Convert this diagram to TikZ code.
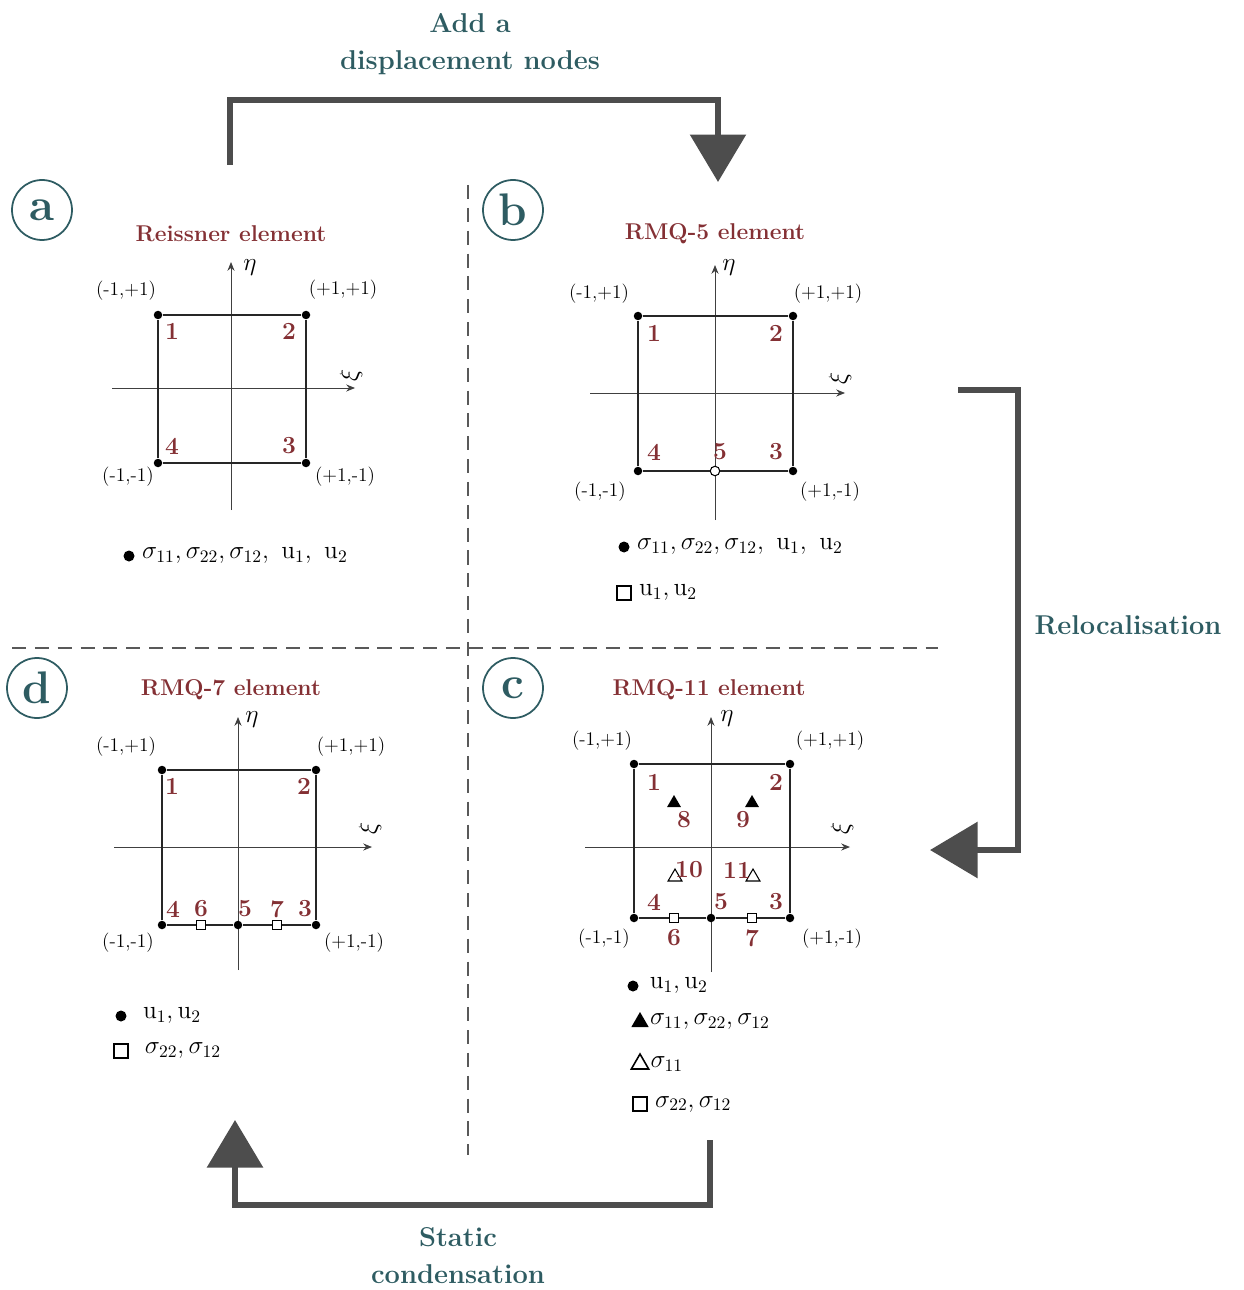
\documentclass[tikz,border=0pt]{standalone}
\usepackage{amsmath}
\usetikzlibrary{arrows.meta,shapes.geometric,positioning}
\definecolor{tealtxt}{RGB}{46,92,98}
\definecolor{elemred}{RGB}{132,48,52}
\definecolor{flowgray}{RGB}{77,77,77}
\tikzset{
  tag/.style={circle,draw=tealtxt,line width=1pt,text=tealtxt,minimum size=1.2cm,inner sep=0pt,font=\bfseries\fontsize{26}{28}\selectfont},
  steptext/.style={text=tealtxt,font=\bfseries\fontsize{15.5}{21}\selectfont,align=center},
  title/.style={text=elemred,font=\bfseries\fontsize{13}{15}\selectfont},
  num/.style={text=elemred,font=\bfseries\fontsize{14}{16}\selectfont,inner sep=1pt},
  crd/.style={font=\fontsize{11}{13}\selectfont},
  axlabel/.style={font=\fontsize{14}{16}\selectfont,inner sep=1pt},
  legtext/.style={font=\fontsize{14.5}{17}\selectfont,inner sep=1pt},
  axis/.style={draw=black!75,line width=0.5pt,-{Stealth[length=5pt,width=4pt]}},
  frame/.style={draw=black!85,line width=0.9pt},
  fulldot/.style={circle,fill=black,inner sep=0pt,minimum size=0.17cm},
  opendot/.style={circle,draw=black,fill=white,line width=0.6pt,inner sep=0pt,minimum size=0.19cm},
  sqdot/.style={rectangle,draw=black,fill=white,line width=0.6pt,inner sep=0pt,minimum size=0.18cm},
  tridot/.style={regular polygon,regular polygon sides=3,fill=black,inner sep=0pt,minimum size=0.32cm},
  otridot/.style={regular polygon,regular polygon sides=3,draw=black,fill=white,line width=0.6pt,inner sep=0pt,minimum size=0.32cm},
  flow/.style={draw=flowgray,line width=3.4pt},
  flowarrow/.style={flow,-{Triangle[width=1.1cm,length=0.95cm]}},
  divider/.style={draw=black!65,line width=1.6pt,dash pattern=on 8pt off 5pt}
}
\begin{document}
\begin{tikzpicture}[x=0.02cm,y=-0.02cm]
\useasboundingbox (0,0) rectangle (1243,1290);
\draw[divider] (468,185) -- (468,1155);
\draw[divider] (12,648) -- (938,648);
\node[steptext] (addtxt) at (470,44) {Add a\\displacement nodes};
\node[steptext] (reltxt) at (1128,625) {Relocalisation};
\node[steptext] (contxt) at (458,1256) {Static\\condensation};
\coordinate (addS) at (230,165);
\coordinate (addTop) at (474,100);
\coordinate (addE) at (718,182);
\coordinate (relS) at (958,390);
\coordinate (relMid) at (1018,620);
\coordinate (relE) at (930,850);
\coordinate (conS) at (710,1140);
\coordinate (conMid) at (470,1205);
\coordinate (conE) at (235,1120);
\draw[flowarrow] (addS) |- (addTop) -| (addE);
\draw[flowarrow] (relS) -| (relMid) |- (relE);
\draw[flowarrow] (conS) |- (conMid) -| (conE);
\node[tag] (tagA) at (42,210) {a};
\node[tag] (tagB) at (513,210) {b};
\node[tag] (tagC) at (513,688) {c};
\node[tag] (tagD) at (37,688) {d};
% Reissner
\node[title] (titA) at (231,234) {Reissner element};
\draw[axis] (112,388) -- (355,388);
\draw[axis] (231,510) -- (231,262);
\node[axlabel] (etaA) at (250,268) {$\eta$};
\node[axlabel,rotate=90] (xiA) at (351,375) {$\xi$};
\node[fulldot] (a1) at (158,315) {};
\node[fulldot] (a2) at (306,315) {};
\node[fulldot] (a3) at (306,463) {};
\node[fulldot] (a4) at (158,463) {};
\draw[frame] (a1) -- (a2) -- (a3) -- (a4) -- (a1);
\node[crd] (cA1) at (126,291) {(-1,+1)};
\node[crd] (cA2) at (343,290) {(+1,+1)};
\node[crd] (cA3) at (345,477) {(+1,-1)};
\node[crd] (cA4) at (128,477) {(-1,-1)};
\node[num] (nA1) at (172,331) {1};
\node[num] (nA2) at (289,331) {2};
\node[num] (nA3) at (289,446) {3};
\node[num] (nA4) at (172,446) {4};
\node[fulldot,minimum size=0.22cm] (legA1) at (129,556) {};
\node[legtext,right=3pt of legA1] (legA1t) {$\sigma_{11},\sigma_{22},\sigma_{12},\ \mathrm{u}_1,\ \mathrm{u}_2$};
% RMQ-5
\node[title] (titB) at (715,234) {RMQ-5 element};
\draw[axis] (590,393) -- (845,393);
\draw[axis] (715,520) -- (715,265);
\node[axlabel] (etaB) at (729,268) {$\eta$};
\node[axlabel,rotate=90] (xiB) at (840,378) {$\xi$};
\node[fulldot] (b1) at (638,316) {};
\node[fulldot] (b2) at (793,316) {};
\node[fulldot] (b3) at (793,471) {};
\node[fulldot] (b4) at (638,471) {};
\node[opendot] (b5) at (715,471) {};
\draw[frame] (b4) -- (b1) -- (b2) -- (b3) -- (b5) -- (b4);
\node[crd] (cB1) at (599,294) {(-1,+1)};
\node[crd] (cB2) at (828,294) {(+1,+1)};
\node[crd] (cB3) at (830,492) {(+1,-1)};
\node[crd] (cB4) at (600,492) {(-1,-1)};
\node[num] (nB1) at (654,333) {1};
\node[num] (nB2) at (776,333) {2};
\node[num] (nB3) at (776,452) {3};
\node[num] (nB4) at (654,452) {4};
\node[num] (nB5) at (720,452) {5};
\node[fulldot,minimum size=0.22cm] (legB1) at (624,547) {};
\node[legtext,right=3pt of legB1] (legB1t) {$\sigma_{11},\sigma_{22},\sigma_{12},\ \mathrm{u}_1,\ \mathrm{u}_2$};
\node[sqdot,minimum size=0.28cm,line width=0.9pt] (legB2) at (624,593) {};
\node[legtext,right=3pt of legB2] (legB2t) {$\mathrm{u}_1,\mathrm{u}_2$};
% RMQ-7
\node[title] (titD) at (231,690) {RMQ-7 element};
\draw[axis] (114,847) -- (372,847);
\draw[axis] (238,970) -- (238,717);
\node[axlabel] (etaD) at (252,720) {$\eta$};
\node[axlabel,rotate=90] (xiD) at (370,828) {$\xi$};
\node[fulldot] (d1) at (162,770) {};
\node[fulldot] (d2) at (316,770) {};
\node[fulldot] (d3) at (316,925) {};
\node[fulldot] (d4) at (162,925) {};
\node[fulldot] (d5) at (238,925) {};
\node[sqdot] (d6) at (201,925) {};
\node[sqdot] (d7) at (277,925) {};
\draw[frame] (d4) -- (d1) -- (d2) -- (d3) -- (d7) -- (d5) -- (d6) -- (d4);
\node[crd] (cD1) at (126,747) {(-1,+1)};
\node[crd] (cD2) at (351,747) {(+1,+1)};
\node[crd] (cD3) at (354,943) {(+1,-1)};
\node[crd] (cD4) at (128,943) {(-1,-1)};
\node[num] (nD1) at (172,786) {1};
\node[num] (nD2) at (304,786) {2};
\node[num] (nD3) at (305,909) {3};
\node[num] (nD4) at (173,909) {4};
\node[num] (nD5) at (245,909) {5};
\node[num] (nD6) at (201,909) {6};
\node[num] (nD7) at (277,909) {7};
\node[fulldot,minimum size=0.22cm] (legD1) at (121,1016) {};
\node[legtext,right=8pt of legD1] (legD1t) {$\mathrm{u}_1,\mathrm{u}_2$};
\node[sqdot,minimum size=0.28cm,line width=0.9pt] (legD2) at (121,1051) {};
\node[legtext,right=8pt of legD2] (legD2t) {$\sigma_{22},\sigma_{12}$};
% RMQ-11
\node[title] (titC) at (709,690) {RMQ-11 element};
\draw[axis] (585,847) -- (850,847);
\draw[axis] (711,972) -- (711,717);
\node[axlabel] (etaC) at (727,719) {$\eta$};
\node[axlabel,rotate=90] (xiC) at (842,828) {$\xi$};
\node[fulldot] (c1) at (634,764) {};
\node[fulldot] (c2) at (790,764) {};
\node[fulldot] (c3) at (790,918) {};
\node[fulldot] (c4) at (634,918) {};
\node[fulldot] (c5) at (711,918) {};
\node[sqdot] (c6) at (674,918) {};
\node[sqdot] (c7) at (752,918) {};
\node[tridot] (c8) at (674,803) {};
\node[tridot] (c9) at (752,803) {};
\node[otridot] (c10) at (675,877) {};
\node[otridot] (c11) at (753,877) {};
\draw[frame] (c4) -- (c1) -- (c2) -- (c3) -- (c7) -- (c5) -- (c6) -- (c4);
\node[crd] (cC1) at (602,741) {(-1,+1)};
\node[crd] (cC2) at (830,741) {(+1,+1)};
\node[crd] (cC3) at (832,939) {(+1,-1)};
\node[crd] (cC4) at (604,939) {(-1,-1)};
\node[num] (nC1) at (654,782) {1};
\node[num] (nC2) at (776,782) {2};
\node[num] (nC3) at (776,902) {3};
\node[num] (nC4) at (654,902) {4};
\node[num] (nC5) at (721,902) {5};
\node[num] (nC6) at (674,938) {6};
\node[num] (nC7) at (752,938) {7};
\node[num] (nC8) at (684,820) {8};
\node[num] (nC9) at (743,820) {9};
\node[num] (nC10) at (689,870) {10};
\node[num] (nC11) at (737,870) {11};
\node[fulldot,minimum size=0.22cm] (legC1) at (633,986) {};
\node[legtext,right=5pt of legC1] (legC1t) {$\mathrm{u}_1,\mathrm{u}_2$};
\node[tridot,minimum size=0.4cm] (legC2) at (640,1022) {};
\node[legtext,right=1pt of legC2] (legC2t) {$\sigma_{11},\sigma_{22},\sigma_{12}$};
\node[otridot,minimum size=0.4cm,line width=0.9pt] (legC3) at (640,1064) {};
\node[legtext,right=1pt of legC3] (legC3t) {$\sigma_{11}$};
\node[sqdot,minimum size=0.28cm,line width=0.9pt] (legC4) at (640,1104) {};
\node[legtext,right=3pt of legC4] (legC4t) {$\sigma_{22},\sigma_{12}$};
\end{tikzpicture}
\end{document}
